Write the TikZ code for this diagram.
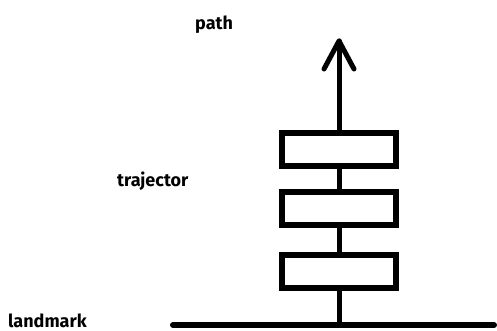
\documentclass[tikz,border=0pt]{standalone}
\usepackage{fontspec}
\setmainfont{Fira Sans}
\begin{document}
\begin{tikzpicture}[x=1pt,y=-1pt,
  lbl/.style={anchor=base west,inner sep=0pt,font=\bfseries\fontsize{18}{21}\selectfont},
  seg/.style={draw,fill=white,line width=6pt,minimum width=114pt,minimum height=33pt,inner sep=0pt},
  stem/.style={line width=5pt,line cap=round,line join=round}]
\useasboundingbox (0,0) rectangle (497,331);
% labels
\node[lbl] (path) at (195,30) {path};
\node[lbl] (traj) at (117,186) {trajector};
\node[lbl] (land) at (8,327) {landmark};
% ground and path
\coordinate (gl) at (173,325);
\coordinate (gr) at (494,325);
\coordinate (base) at (339,325);
\coordinate (tip) at (339,41);
\coordinate (wl) at (324,69);
\coordinate (wr) at (354,69);
\draw[line width=6pt,line cap=round] (gl) -- (gr);
\draw[stem] (base) -- (tip);
\draw[stem] (wl) -- (tip) -- (wr);
% trajector segments
\node[seg] (b1) at (339,149.5) {};
\node[seg] (b2) at (339,208) {};
\node[seg] (b3) at (339,271.5) {};
\end{tikzpicture}
\end{document}
